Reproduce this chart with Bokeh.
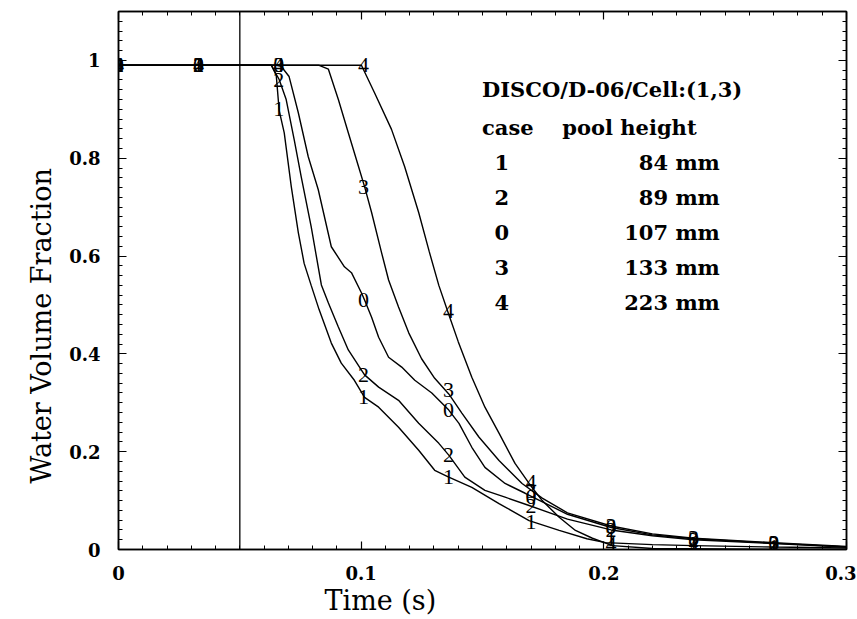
import math
from bokeh.plotting import figure
from bokeh.models import (Range1d, LinearAxis, FixedTicker,
                          CustomJSTickFormatter, Span, Label, Title)
from bokeh.core.properties import value
from bokeh.embed import file_html
from bokeh.resources import INLINE

# ---------------- data ----------------
# case 1 (84 mm)
t1 = [0.0, 0.033, 0.063, 0.065, 0.0662, 0.0683, 0.0712, 0.0741, 0.0765, 0.0794, 0.0827,
      0.0877, 0.0918, 0.0972, 0.1014, 0.1072, 0.1154, 0.1237, 0.1303, 0.1361, 0.1456,
      0.1568, 0.1692, 0.1816, 0.193, 0.2007, 0.22, 0.237, 0.27, 0.3]
v1 = [0.99, 0.99, 0.99, 0.97, 0.898, 0.852, 0.742, 0.648, 0.585, 0.540, 0.490,
      0.422, 0.381, 0.346, 0.311, 0.291, 0.250, 0.203, 0.162, 0.148, 0.127,
      0.094, 0.059, 0.039, 0.022, 0.014, 0.010, 0.008, 0.005, 0.003]
# case 2 (89 mm)
t2 = [0.0, 0.033, 0.063, 0.0662, 0.0691, 0.0724, 0.0753, 0.0794, 0.0836, 0.0865, 0.0906,
      0.0947, 0.1014, 0.1072, 0.1154, 0.1237, 0.1320, 0.1361, 0.1427, 0.1510, 0.1593,
      0.1692, 0.185, 0.203, 0.22, 0.237, 0.27, 0.3]
v2 = [0.99, 0.99, 0.99, 0.961, 0.920, 0.838, 0.762, 0.660, 0.541, 0.504, 0.455,
      0.408, 0.357, 0.332, 0.305, 0.258, 0.217, 0.193, 0.148, 0.121, 0.107,
      0.090, 0.062, 0.040, 0.028, 0.020, 0.012, 0.005]
# case 0 (107 mm)
t0 = [0.0, 0.033, 0.065, 0.0670, 0.0703, 0.0741, 0.0782, 0.0823, 0.0877, 0.0931, 0.0960,
      0.1001, 0.1014, 0.1043, 0.1072, 0.1113, 0.1167, 0.1221, 0.1291, 0.1361, 0.1403,
      0.1456, 0.1510, 0.1593, 0.1676, 0.185, 0.203, 0.22, 0.237, 0.27, 0.3]
v0 = [0.99, 0.99, 0.99, 0.988, 0.967, 0.893, 0.803, 0.736, 0.619, 0.578, 0.566,
      0.525, 0.510, 0.475, 0.434, 0.393, 0.373, 0.346, 0.320, 0.285, 0.258,
      0.209, 0.168, 0.135, 0.115, 0.072, 0.045, 0.030, 0.022, 0.013, 0.005]
# case 3 (133 mm)
t3 = [0.0, 0.033, 0.066, 0.0827, 0.0865, 0.0906, 0.0947, 0.0989, 0.1014, 0.1043, 0.1084,
      0.1113, 0.1154, 0.1196, 0.1249, 0.1303, 0.1361, 0.1415, 0.1485, 0.1568, 0.1663,
      0.1746, 0.185, 0.203, 0.22, 0.237, 0.27, 0.3]
v3 = [0.99, 0.99, 0.99, 0.99, 0.982, 0.920, 0.852, 0.783, 0.742, 0.689, 0.607,
      0.551, 0.496, 0.443, 0.390, 0.350, 0.318, 0.279, 0.230, 0.182, 0.135,
      0.105, 0.075, 0.048, 0.032, 0.023, 0.014, 0.006]
# case 4 (223 mm)
t4 = [0.0, 0.033, 0.066, 0.098, 0.1001, 0.1055, 0.1125, 0.1179, 0.1237, 0.1280, 0.1320,
      0.1360, 0.1400, 0.1456, 0.1510, 0.1568, 0.1634, 0.1692, 0.1746, 0.1816,
      0.1883, 0.1953, 0.2036, 0.22, 0.25, 0.3]
v4 = [0.99, 0.99, 0.99, 0.99, 0.99, 0.934, 0.859, 0.783, 0.689, 0.610, 0.540,
      0.482, 0.425, 0.352, 0.291, 0.238, 0.176, 0.135, 0.100, 0.066,
      0.039, 0.023, 0.008, 0.002, 0.001, 0.0]

# curve-label markers (digit drawn on the curve)
mark_t = [0.0, 0.033, 0.066, 0.101, 0.136, 0.170, 0.203, 0.237, 0.270]
mark_v1 = [0.99, 0.99, 0.90, 0.311, 0.148, 0.057, 0.022, 0.010, 0.006]
mark_v2 = [0.99, 0.99, 0.96, 0.357, 0.193, 0.088, 0.040, 0.020, 0.012]
mark_v0 = [0.99, 0.99, 0.99, 0.510, 0.285, 0.108, 0.045, 0.022, 0.013]
mark_v3 = [0.99, 0.99, 0.99, 0.742, 0.326, 0.120, 0.048, 0.024, 0.014]
mark_v4 = [0.99, 0.99, 0.99, 0.990, 0.487, 0.137, 0.012, 0.004, 0.002]

cases = ["1", "2", "0", "3", "4"]
pool_heights = [84, 89, 107, 133, 223]
title_text = "DISCO/D-06/Cell:(1,3)"
start_time = 0.05

x_major = [0.0, 0.1, 0.2, 0.3]
y_major = [0.0, 0.2, 0.4, 0.6, 0.8, 1.0]
x_minor = [i / 100 for i in range(0, 31)]
y_minor = [i / 50 for i in range(0, 56)]

# ---------------- figure ----------------
p = figure(width=856, height=615, output_backend="svg", toolbar_location=None,
           x_range=Range1d(0, 0.3), y_range=Range1d(0, 1.1),
           min_border_left=118, min_border_right=10, min_border_top=11,
           min_border_bottom=64)
p.background_fill_color = "white"
p.border_fill_color = "white"
p.grid.visible = False
p.outline_line_color = "black"
p.outline_line_width = 1.5

fmt = CustomJSTickFormatter(code="return String(Math.round(tick*10)/10);")
blank = CustomJSTickFormatter(code="return '';")

def style_axis(ax, labels=True):
    ax.axis_line_color = "black"
    ax.axis_line_width = 1.5
    ax.major_tick_in = 8
    ax.major_tick_out = 0
    ax.minor_tick_in = 4
    ax.minor_tick_out = 0
    ax.major_tick_line_width = 1.2
    ax.minor_tick_line_width = 1
    if labels:
        ax.major_label_text_font = "DejaVu Serif"
        ax.major_label_text_font_style = "bold"
        ax.major_label_text_font_size = "18px"
        ax.major_label_text_color = "black"
    else:
        ax.formatter = blank
        ax.major_label_text_font_size = "2px"
        ax.major_label_standoff = 0

p.xaxis.ticker = FixedTicker(ticks=x_major, minor_ticks=x_minor)
p.yaxis.ticker = FixedTicker(ticks=y_major, minor_ticks=y_minor)
p.xaxis.formatter = fmt
p.yaxis.formatter = fmt
style_axis(p.xaxis[0])
style_axis(p.yaxis[0])
p.xaxis.major_label_standoff = 16
p.yaxis.major_label_standoff = 18

top = LinearAxis(ticker=FixedTicker(ticks=x_major, minor_ticks=x_minor))
right = LinearAxis(ticker=FixedTicker(ticks=y_major, minor_ticks=y_minor))
style_axis(top, labels=False)
style_axis(right, labels=False)
p.add_layout(top, "above")
p.add_layout(right, "right")

# axis titles as side-panel titles (off-centre like the reference)
p.add_layout(Title(text="Time (s)", align="left", offset=206, standoff=0,
                   text_font="DejaVu Serif", text_font_style="normal",
                   text_font_size="27px", text_color="black"), "below")
p.add_layout(Title(text="Water Volume Fraction", align="left", offset=66, standoff=16,
                   vertical_align="top",
                   text_font="DejaVu Serif", text_font_style="normal",
                   text_font_size="27px", text_color="black"), "left")

# start-time vertical line
p.add_layout(Span(location=start_time, dimension="height", line_color="black", line_width=1.3))

# curves
for tt, vv in [(t1, v1), (t2, v2), (t0, v0), (t3, v3), (t4, v4)]:
    p.line(tt, vv, line_color="black", line_width=1.4)

# digits on the curves
for lab, mv in [("1", mark_v1), ("2", mark_v2), ("0", mark_v0), ("3", mark_v3), ("4", mark_v4)]:
    p.text(x=mark_t, y=mv, text=[lab] * len(mark_t), text_align="center",
           text_baseline="middle", text_font=value("Liberation Serif"),
           text_font_size="22px", text_color="black")

# legend block (text)
def legend_label(x, y, text, align="left"):
    p.add_layout(Label(x=x, y=y, text=text, text_font="DejaVu Serif",
                       text_font_style="bold", text_font_size="21px", text_color="black",
                       text_align=align, text_baseline="alphabetic"))

legend_label(0.1498, 0.94, title_text)
legend_label(0.1498, 0.863, "case")
legend_label(0.1829, 0.863, "pool height")
row_y0 = 0.791
row_dy = 0.0715
for i, (c, h) in enumerate(zip(cases, pool_heights)):
    yy = row_y0 - i * row_dy
    legend_label(0.158, yy, c, align="center")
    legend_label(0.2478, yy, f"{h} mm", align="right")

open("out.html", "w").write(file_html(p, INLINE))
